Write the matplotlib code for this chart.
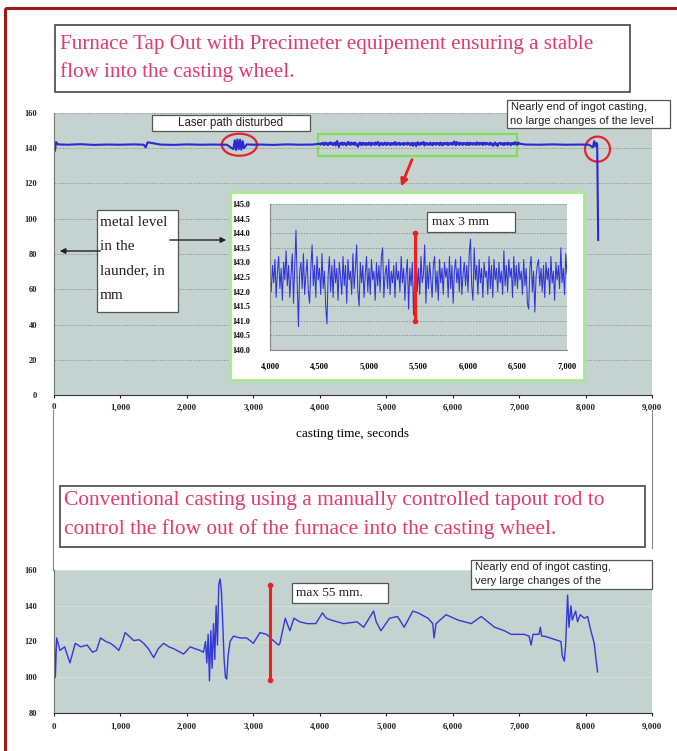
import numpy as np
import matplotlib.pyplot as plt
from matplotlib.patches import Rectangle, Ellipse, FancyArrowPatch
from matplotlib.ticker import FuncFormatter

W, H = 677, 751

SERIF = "Liberation Serif"
SANS = "Liberation Sans"
PINK = "#e8386c"
BLUE = "#2a2ad0"
PLOT_BG = "#c4d2d0"

# --- top chart: tap out with Precimeter, metal level in the launder (mm) ---
top_time_start = [0, 15, 30, 60, 200, 400, 600, 800, 1000, 1200, 1350, 1380, 1410,
                  1600, 1800, 2000, 2200, 2400, 2600, 2700, 2720, 2740, 2760, 2780,
                  2800, 2820, 2840, 2860, 2900, 3000, 3100, 3300, 3500, 3700, 3900]
top_level_start = [142.0, 138.5, 143.5, 142.2, 142.0, 142.3, 141.9, 142.1, 142.0, 142.2,
                   142.0, 140.5, 143.4, 142.1, 141.9, 142.2, 142.0, 142.1, 142.0, 139.5,
                   144.5, 139.0, 145.0, 139.5, 144.8, 139.2, 144.0, 140.0, 142.2, 142.0,
                   142.1, 141.9, 142.2, 142.0, 142.1]

# zoomed window 4,000 - 7,000 s (sampled every 12.5 s)
zoom_time = np.arange(4000, 7000.1, 12.5)
zoom_level = [
    142.6, 142.0, 142.9, 142.3, 143.1, 141.8, 142.7, 143.2, 142.1, 142.8,
    141.7, 143.0, 142.4, 143.4, 142.2, 142.9, 141.8, 142.6, 143.3, 141.6,
    142.9, 144.1, 142.3, 140.8, 142.7, 143.0, 142.1, 143.3, 141.9, 142.6,
    143.1, 142.0, 141.6, 142.8, 143.6, 142.2, 142.9, 141.8, 143.2, 142.4,
    142.8, 141.9, 143.3, 142.1, 142.7, 141.5, 140.9, 142.6, 143.2, 142.0,
    142.9, 141.8, 143.1, 142.3, 142.8, 141.7, 143.0, 142.5, 141.9, 143.2,
    142.2, 142.9, 141.6, 143.1, 142.4, 142.7, 141.9, 143.3, 142.1, 142.8,
    143.6, 142.0, 141.5, 143.0, 142.3, 142.9, 141.8, 142.6, 143.2, 142.0,
    142.8, 141.9, 143.1, 142.4, 142.7, 141.7, 143.0, 142.2, 142.9, 142.0,
    143.2, 143.5, 141.8, 142.6, 142.9, 142.1, 143.1, 141.9, 142.7, 142.3,
    142.9, 141.8, 143.0, 142.4, 142.7, 142.0, 143.2, 142.3, 142.8, 141.7,
    142.6, 143.1, 141.4, 142.8, 142.2, 143.0, 141.2, 142.7, 143.4, 142.0,
    142.8, 141.9, 143.2, 142.3, 142.6, 143.6, 141.6, 142.9, 142.1, 143.0,
    142.4, 141.8, 142.9, 143.2, 142.0, 142.7, 141.7, 143.1, 142.3, 142.8,
    141.9, 143.0, 142.5, 142.8, 141.8, 143.2, 142.1, 142.9, 141.6, 142.7,
    143.1, 142.3, 142.8, 142.0, 143.2, 141.9, 142.6, 143.0, 142.2, 142.9,
    142.0, 143.3, 143.8, 142.2, 141.7, 143.5, 142.4, 142.9, 141.9, 143.1,
    142.3, 142.8, 141.8, 143.0, 142.5, 142.7, 141.9, 143.2, 142.1, 142.9,
    141.8, 143.1, 142.4, 142.8, 142.0, 143.0, 142.3, 142.7, 141.9, 143.4,
    142.2, 142.9, 142.0, 143.1, 142.5, 142.8, 141.8, 143.2, 142.2, 142.9,
    142.1, 143.0, 142.4, 142.7, 141.9, 143.1, 142.2, 142.8, 141.6, 141.4,
    142.8, 143.2, 142.0, 142.7, 141.3, 142.5, 142.9, 143.1, 142.2, 142.8,
    142.0, 142.9, 141.8, 143.0, 142.4, 142.8, 141.9, 143.2, 142.3, 142.7,
    141.7, 143.0, 142.4, 142.9, 142.1, 143.5, 142.3, 142.8, 141.9, 143.3,
    142.6,
]

top_time_end = [7100, 7300, 7500, 7700, 7900, 8050, 8110, 8130, 8150, 8165, 8175, 8190]
top_level_end = [142.1, 142.0, 142.2, 142.0, 142.1, 142.0, 140.5, 144.0, 141.0, 143.0,
                 142.0, 88.0]

top_time = np.concatenate([top_time_start, zoom_time, top_time_end])
top_level = np.concatenate([top_level_start, zoom_level, top_level_end])

max3_time = 5460
max3_range = [141.0, 144.0]

# --- bottom chart: conventional casting, metal level (mm) ---
bot_time = [0, 20, 40, 90, 160, 240, 320, 400, 500, 580, 640, 700, 780, 850, 920,
            975, 1030, 1070, 1130, 1200, 1280, 1350, 1420, 1500, 1570, 1650, 1730,
            1800, 1850, 1950, 2050, 2120, 2200, 2250, 2280, 2300, 2320, 2340, 2360,
            2380, 2400, 2420, 2440, 2460, 2480, 2500, 2520, 2540, 2560, 2580, 2600,
            2620, 2650, 2700, 2800, 2900, 3000, 3100, 3200, 3300, 3380, 3400, 3480,
            3550, 3610, 3700, 3810, 3940, 4040, 4100, 4170, 4360, 4560, 4660, 4810,
            4850, 4920, 5050, 5170, 5270, 5400, 5480, 5630, 5700, 5720, 5750, 5900,
            6080, 6280, 6430, 6630, 6780, 6880, 7080, 7150, 7180, 7210, 7300, 7320,
            7340, 7380, 7630, 7650, 7680, 7700, 7730, 7750, 7780, 7800, 7850, 7880,
            7920, 7980, 8030, 8080, 8130, 8180]
bot_level = [128, 100, 122, 115, 117, 108, 119, 117, 118, 114, 115, 122, 120, 119, 117,
             115, 120, 125, 123, 120.5, 121, 119, 116, 111, 116, 119, 117,
             116, 115, 113, 117, 116, 115, 114, 120, 108, 124, 98, 126,
             105, 130, 110, 140, 118, 152, 155, 148, 130, 110, 100, 99,
             112, 120, 123, 122, 122, 119, 125, 124, 120.5, 118, 119, 133,
             126, 133, 131, 130, 130, 136, 133, 132, 130, 131, 128, 137,
             131, 126, 133, 134, 128, 137, 136, 133, 130, 122, 130, 135,
             132, 130, 134, 128, 126, 124, 124, 123, 118, 124, 124, 128,
             123, 123, 120, 112, 109, 118, 146, 128, 140, 132, 137, 131,
             135, 133, 134, 126, 119, 103]

max55_time = 3250
max55_range = [98.5, 151.5]

x_ticks = np.arange(0, 9001, 1000)


def px_box(x0, y0, x1, y1):
    return [x0 / W, 1 - y1 / H, (x1 - x0) / W, (y1 - y0) / H]


def thousands(v, pos):
    return f"{v:,.0f}"


def style_axes(ax, ylim, yticks, xpad):
    ax.set_facecolor(PLOT_BG)
    ax.set_xlim(0, 9000)
    ax.set_ylim(*ylim)
    ax.set_xticks(x_ticks)
    ax.set_yticks(yticks)
    ax.xaxis.set_major_formatter(FuncFormatter(thousands))
    for s in ["top", "right"]:
        ax.spines[s].set_visible(False)
    ax.spines["left"].set_color("#777777")
    ax.spines["bottom"].set_color("#333333")
    ax.tick_params(axis="x", length=2, pad=xpad, labelsize=6.3, colors="#222222")
    ax.tick_params(axis="y", length=0, pad=12, labelsize=6, colors="#222222")
    for lab in ax.get_xticklabels() + ax.get_yticklabels():
        lab.set_fontfamily(SERIF)
        lab.set_fontweight("bold")
    ax.grid(axis="y", color="#555555", linestyle=(0, (2, 2)), linewidth=0.5, alpha=0.6)
    ax.set_axisbelow(True)


fig = plt.figure(figsize=(W / 100, H / 100), dpi=100)

# top chart
ax_top = fig.add_axes(px_box(54, 113, 652, 395))
style_axes(ax_top, (0, 160), np.arange(0, 161, 20), 4)
ax_top.plot(top_time, top_level, color=BLUE, linewidth=1.5)
ax_top.set_xlabel("casting time, seconds", fontfamily=SERIF, fontsize=9.5, labelpad=12)
ax_top.add_patch(Ellipse((2790, 142), 530, 12.5, fill=False, edgecolor="#e82030", linewidth=1.6))
ax_top.add_patch(Ellipse((8180, 139.5), 376, 14.2, fill=False, edgecolor="#e82030", linewidth=1.6))
ax_top.add_patch(Rectangle((3970, 135.5), 3000, 12.5, fill=False, edgecolor="#7de05a", linewidth=1.6))

# inset frame + zoomed axes
fig.patches.append(Rectangle((230 / W, 1 - 380 / H), 354 / W, 188 / H,
                             transform=fig.transFigure, facecolor="white",
                             edgecolor="#a8e890", linewidth=2.0, zorder=1))
ax_in = fig.add_axes(px_box(270, 204, 567, 350), zorder=2)
ax_in.set_facecolor(PLOT_BG)
ax_in.plot(zoom_time, zoom_level, color="#2f35d8", linewidth=0.75)
ax_in.vlines(max3_time, max3_range[0], max3_range[1], color="#f02020", linewidth=2.2)
ax_in.plot([max3_time] * 2, max3_range, "o", color="#f02020", markersize=3)
ax_in.set_xlim(4000, 7000)
ax_in.set_ylim(140, 145)
ax_in.set_xticks(np.arange(4000, 7001, 500))
ax_in.set_yticks(np.arange(140, 145.01, 0.5))
ax_in.xaxis.set_major_formatter(FuncFormatter(thousands))
ax_in.yaxis.set_major_formatter(FuncFormatter(lambda v, p: f"{v:.1f}"))
for s in ["top", "right"]:
    ax_in.spines[s].set_visible(False)
ax_in.spines["left"].set_color("#888888")
ax_in.spines["bottom"].set_color("#888888")
ax_in.tick_params(axis="x", length=0, pad=9, labelsize=6)
ax_in.tick_params(axis="y", length=0, pad=14, labelsize=5.8)
for lab in ax_in.get_xticklabels() + ax_in.get_yticklabels():
    lab.set_fontfamily(SERIF)
    lab.set_fontweight("bold")
ax_in.grid(axis="y", color="#444444", linestyle=(0, (2, 2)), linewidth=0.5, alpha=0.6)
ax_in.set_axisbelow(True)

# bottom chart
ax_bot = fig.add_axes(px_box(54, 570, 652, 713))
style_axes(ax_bot, (80, 160), np.arange(80, 161, 20), 5)
ax_bot.grid(axis="y", color="#e0e8e6", linestyle="-", linewidth=0.6, alpha=0.7)
ax_bot.plot(bot_time, bot_level, color="#3338d8", linewidth=1.0)
ax_bot.vlines(max55_time, max55_range[0], max55_range[1], color="#f02020", linewidth=2.2)
ax_bot.plot([max55_time] * 2, max55_range, "o", color="#f02020", markersize=3)

# overlay for boxes, notes and arrows (pixel coordinates)
ov = fig.add_axes([0, 0, 1, 1], zorder=5)
ov.set_xlim(0, W)
ov.set_ylim(H, 0)
ov.axis("off")
ov.patch.set_alpha(0)

# page border
ov.add_patch(Rectangle((5, 8), 700, 760, fill=False, edgecolor="#a01818", linewidth=2.2))

# frame of the lower picture
ov.plot([53, 53], [410, 570], color="#888888", linewidth=0.8)
ov.plot([652, 652], [410, 548], color="#888888", linewidth=0.8)


def boxed(x0, y0, x1, y1, lw=1.0, ec="#555555"):
    ov.add_patch(Rectangle((x0, y0), x1 - x0, y1 - y0, facecolor="white",
                           edgecolor=ec, linewidth=lw))


boxed(55, 25, 630, 92, lw=1.3)
ov.text(60, 44, "Furnace Tap Out with Precimeter equipement ensuring a stable",
        color=PINK, fontfamily=SERIF, fontsize=15.2, va="center")
ov.text(60, 72, "flow into the casting wheel.",
        color=PINK, fontfamily=SERIF, fontsize=15.2, va="center")

boxed(60, 486, 645, 547, lw=1.3)
ov.text(64, 501, "Conventional casting using a manually controlled tapout rod to",
        color=PINK, fontfamily=SERIF, fontsize=15.4, va="center")
ov.text(64, 529, "control the flow out of the furnace into the casting wheel.",
        color=PINK, fontfamily=SERIF, fontsize=15.4, va="center")

boxed(152, 115, 310, 131, lw=0.9)
ov.text(231, 123, "Laser path disturbed", fontfamily=SANS, fontsize=8.3,
        ha="center", va="center", color="#222222")

boxed(507, 100, 670, 128, lw=0.9)
ov.text(511, 107, "Nearly end of ingot casting,", fontfamily=SANS, fontsize=8,
        va="center", color="#222222")
ov.text(510, 121, "no large changes of the level", fontfamily=SANS, fontsize=8,
        va="center", color="#222222")

boxed(471, 560, 652, 589, lw=0.9)
ov.text(475, 567, "Nearly end of ingot casting,", fontfamily=SANS, fontsize=8,
        va="center", color="#222222")
ov.text(475, 581, "very large changes of the", fontfamily=SANS, fontsize=8,
        va="center", color="#222222")

boxed(97, 210, 178, 312, lw=0.9)
for i, line in enumerate(["metal level", "in the", "launder, in", "mm"]):
    ov.text(100, 222 + i * 24.5, line, fontfamily=SERIF, fontsize=11, va="center",
            color="#222222")

boxed(427, 212, 515, 232, lw=0.9)
ov.text(432, 222, "max 3 mm", fontfamily=SERIF, fontsize=9.5, va="center", color="#222222")

boxed(292, 583, 388, 603, lw=0.9)
ov.text(296, 593, "max 55 mm.", fontfamily=SERIF, fontsize=9.5, va="center", color="#222222")

ov.add_patch(FancyArrowPatch((103, 251), (57, 251), arrowstyle="-|>", mutation_scale=8,
                             color="#222222", linewidth=1.0))
ov.add_patch(FancyArrowPatch((167, 240), (229, 240), arrowstyle="-|>", mutation_scale=8,
                             color="#222222", linewidth=1.0))
ov.add_patch(FancyArrowPatch((413, 157), (400, 189), arrowstyle="-|>", mutation_scale=10,
                             color="#e82020", linewidth=2.0))

fig.savefig("out.png", dpi=100, facecolor="white")
